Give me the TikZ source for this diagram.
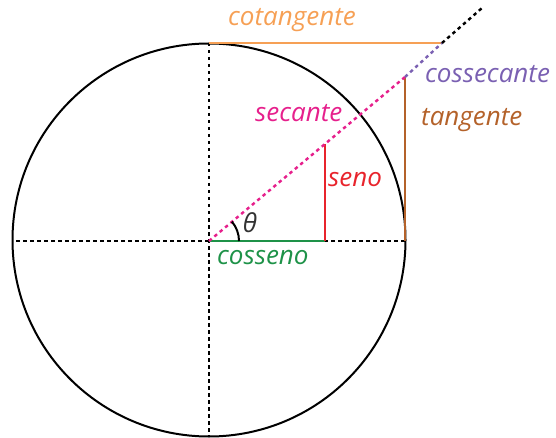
\documentclass[tikz,border=0pt]{standalone}
\usepackage{fontspec}
\setmainfont{Open Sans}
\begin{document}
\begin{tikzpicture}[x=1pt,y=-1pt,
  dotline/.style={line width=2.4pt,dash pattern=on 3.5pt off 3.5pt},
  lbl/.style={font=\itshape\fontsize{26}{26}\selectfont,inner sep=0pt,anchor=west},
  solidseg/.style={line width=2pt}]
\definecolor{corange}{RGB}{246,160,85}
\definecolor{cpurple}{RGB}{122,96,178}
\definecolor{cmagenta}{RGB}{230,32,140}
\definecolor{cbrown}{RGB}{180,98,42}
\definecolor{cred}{RGB}{232,36,44}
\definecolor{cgreen}{RGB}{30,146,72}
\useasboundingbox (0,0) rectangle (556,438);
\coordinate (C) at (209,241);
\coordinate (L) at (16,241);
\coordinate (R) at (405,241);
\coordinate (Tp) at (209,43);
\coordinate (Bt) at (209,436);
\coordinate (T) at (405,77);
\coordinate (K) at (442,43);
\coordinate (E) at (482,8);
\coordinate (S) at (325,144);
\coordinate (Sb) at (325,241);
% axes
\draw[dotline] (L) -- (R);
\draw[dotline] (Tp) -- (Bt);
% circle
\draw[line width=2pt] (209,240) circle[radius=196.5];
% cosine
\draw[solidseg,cgreen] (C) -- (Sb);
% sine
\draw[solidseg,cred] (Sb) -- (S);
% tangent
\draw[solidseg,cbrown] (R) -- (T);
% cotangent
\draw[solidseg,corange] (Tp) -- (K);
% secant line
\draw[dotline,cmagenta] (C) -- (T);
\draw[dotline,cpurple] (T) -- (K);
\draw[dotline,black] (K) -- (E);
% angle
\draw[line width=2pt] (239,241) arc[start angle=0,end angle=-40.3,radius=30];
% labels
\node[lbl,text=corange] (lcot) at (228,20) {cotangente};
\node[lbl,text=cpurple] (lcsc) at (425,74) {cossecante};
\node[lbl,text=cmagenta] (lsec) at (255,113) {secante};
\node[lbl,text=cbrown] (ltan) at (421,120) {tangente};
\node[lbl,text=cred] (lsin) at (328,180) {seno};
\node[lbl,text=cgreen] (lcos) at (217,258) {cosseno};
\node[lbl,anchor=center,text=black!80] (lth) at (250,223) {θ};
\end{tikzpicture}
\end{document}
